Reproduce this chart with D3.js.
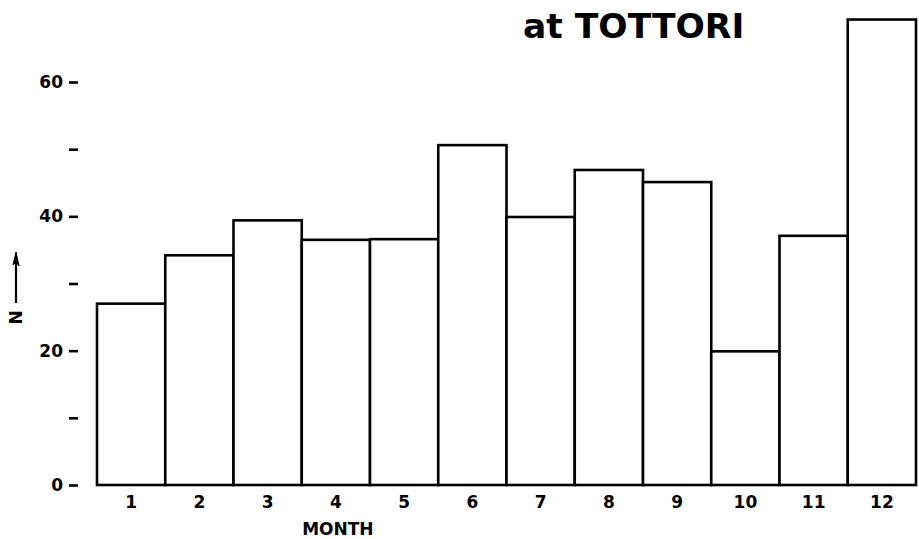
<!DOCTYPE html>
<html><head><meta charset="utf-8">
<script src="https://cdn.jsdelivr.net/npm/d3@7"></script>
<style>body{margin:0;background:#fff}svg{display:block}</style>
</head><body>
<svg id="c" width="919" height="539"></svg>
<script>
const months = ["1","2","3","4","5","6","7","8","9","10","11","12"];
const counts = [27, 34.2, 39.4, 36.5, 36.6, 50.6, 39.9, 46.9, 45.1, 19.9, 37.1, 69.3];
const yTicks = [0, 10, 20, 30, 40, 50, 60];
const yLabels = {0:"0", 20:"20", 40:"40", 60:"60"};
const title = "at TOTTORI";
const xTitle = "MONTH";
const yTitle = "N";

const svg = d3.select("#c");
const font = "'DejaVu Sans', 'Liberation Sans', sans-serif";
const x = d3.scaleBand().domain(months).range([97, 916]).padding(0);
const y = d3.scaleLinear().domain([0, 60]).range([485, 82]);

// bars
svg.append("g").selectAll("rect").data(months).join("rect")
  .attr("x", d => x(d)).attr("width", x.bandwidth())
  .attr("y", (d,i) => y(counts[i])).attr("height", (d,i) => y(0) - y(counts[i]))
  .attr("fill", "#fff").attr("stroke", "#000").attr("stroke-width", 2.6);

// y axis (detached dashes)
const ya = svg.append("g").attr("transform", "translate(78,0)")
  .call(d3.axisLeft(y).tickValues(yTicks).tickSize(9).tickPadding(6)
    .tickFormat(d => yLabels[d] || ""));
ya.select(".domain").remove();
ya.selectAll("line").attr("stroke", "#000").attr("stroke-width", 2.6);
ya.selectAll("text").attr("font-family", font).attr("font-weight", "bold")
  .attr("font-size", 17).attr("fill", "#000");

// x axis
const xa = svg.append("g").attr("transform", "translate(0,485)")
  .call(d3.axisBottom(x).tickSize(0).tickPadding(11));
xa.select(".domain").remove();
xa.selectAll("text").attr("font-family", font).attr("font-weight", "bold")
  .attr("font-size", 17).attr("fill", "#000");

// x title
svg.append("text").attr("x", x("4") + x.bandwidth()/2 + 2).attr("y", 535)
  .attr("text-anchor", "middle").attr("font-family", font).attr("font-weight", "bold")
  .attr("font-size", 17).text(xTitle);

// y title with arrow
svg.append("text").attr("transform", "translate(22,317.5) rotate(-90)")
  .attr("text-anchor", "middle").attr("font-family", font).attr("font-weight", "bold")
  .attr("font-size", 17).text(yTitle);
svg.append("line").attr("x1", 16).attr("x2", 16).attr("y1", 303).attr("y2", 262)
  .attr("stroke", "#000").attr("stroke-width", 2.2);
svg.append("path").attr("d", "M16,252 L13,265 L16,262 L19,266 Z").attr("fill", "#000")
  .attr("stroke", "#000").attr("stroke-width", 1);

// title
svg.append("text").attr("x", 523).attr("y", 38).attr("font-family", font)
  .attr("font-weight", "bold").attr("font-size", 34.5)
  .text(title);
</script>
</body></html>
